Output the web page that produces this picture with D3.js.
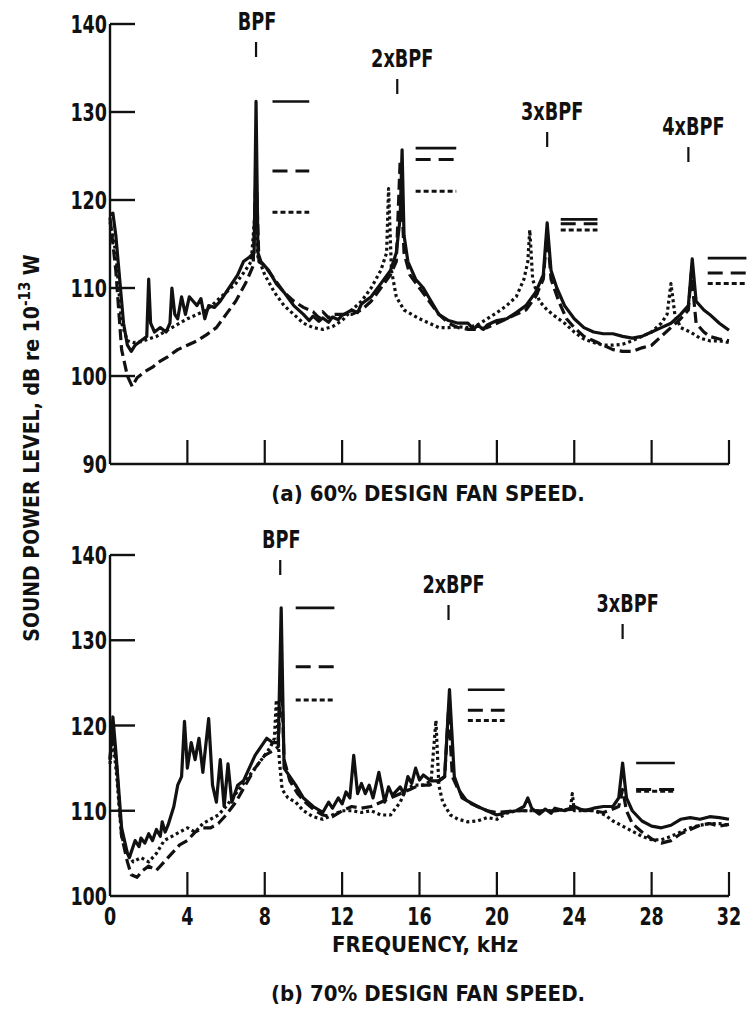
<!DOCTYPE html>
<html>
<head>
<meta charset="utf-8">
<script src="https://cdn.jsdelivr.net/npm/d3@7"></script>
<style>
  body { margin: 0; background: #fff; }
  text { font-family: 'Liberation Sans Narrow', 'DejaVu Sans Condensed', sans-serif; font-weight: bold; fill: #111; }
</style>
</head>
<body>
<svg id="chart" width="748" height="1020"></svg>
<script>
// ---- data (frequency kHz, sound power level dB) ----

// (a) 60% design fan speed
var a60Solid = [[0,118.3],[0.15,118.5],[0.3,116],[0.5,111],[0.7,106],[0.9,103.5],[1.1,102.8],[1.3,103.5],[1.6,104],[1.9,104.5],
  [2.0,111],[2.1,106],[2.3,105],[2.6,105.5],[2.9,105],[3.1,106],[3.2,110],[3.35,107],[3.5,106.5],[3.7,109],[3.9,107],[4.1,109],
  [4.3,108.5],[4.5,108],[4.7,108.8],[4.9,106.5],[5.1,108],[5.4,107.8],[5.7,108.5],[6.0,109.5],[6.3,110.5],[6.6,111.5],[6.9,113],
  [7.2,113.5],[7.45,114],[7.55,131.2],[7.65,114],[7.8,113],[8.2,112],[8.6,110.5],[9.0,109.5],[9.5,108],[10,107],[10.3,106.3],[10.5,106.8],
  [10.8,106.2],[11,106.6],[11.3,106.1],[11.5,106.7],[11.8,106.4],[12,106.9],[12.5,107.5],[12.8,107.2],[13,108.2],[13.5,109],[14,110.5],[14.5,112],[14.8,114],[15.0,118],[15.1,125.7],
  [15.2,116],[15.4,113],[15.8,111],[16.2,110],[16.6,108.5],[17,107],[17.5,106.3],[18,106],[18.5,106],[18.8,105.3],[19,105.8],[19.3,105.3],[19.5,105.8],
  [20,106.3],[20.5,106.5],[21,107.2],[21.5,108],[22,109.5],[22.4,111.5],[22.6,117.4],[22.8,112],[23.1,110],[23.5,108],[24,106.5],
  [24.5,105.5],[25,105],[25.5,104.8],[26,104.8],[26.5,104.5],[27,104.3],[27.5,104.5],[28,105],[28.5,105.5],[29,106],[29.5,107],
  [29.9,108],[30.1,113.3],[30.3,108.5],[30.7,107.5],[31,107],[31.5,106],[32,105.2]];

var a60Dashed = [[0,118],[0.3,112],[0.6,103],[0.9,100],[1.15,98.8],[1.4,99.8],[1.8,100.5],[2.2,101],[2.6,101.7],[3.0,102.2],
  [3.5,103],[4,103.5],[4.5,104],[5,104.7],[5.5,105.5],[6,107],[6.5,108.5],[7,110.5],[7.4,112.5],[7.55,123.3],[7.7,113],[8,112.5],
  [8.5,111],[9,109.5],[9.5,108.5],[10,107.8],[10.5,107.3],[10.8,106.6],[11,107.3],[11.3,106.6],[11.5,107],[12,107],[12.5,107],[13,107.5],[13.5,108.5],
  [14,110],[14.5,111.5],[14.8,113],[15.0,124.5],[15.2,114],[15.5,111.5],[16,110],[16.5,108.5],[17,107],[17.5,106],[18,105.5],
  [18.5,105.3],[19,105.3],[19.5,105.5],[20,106],[20.5,106.5],[21,107],[21.5,107.5],[22,109],[22.4,111],[22.6,116.5],[22.8,111],
  [23.2,108.5],[23.6,106.5],[24,105.5],[24.5,104.5],[25,104],[25.5,103.5],[26,103],[26.5,102.8],[27,102.8],[27.5,103.2],[28,103.5],
  [28.5,104.5],[29,105.5],[29.5,106.5],[29.9,107.5],[30.05,111.7],[30.3,106],[30.7,105],[31,104.5],[31.5,104.2],[32,104]];

var a60Dotted = [[0,117.5],[0.3,114],[0.6,106],[0.9,104],[1.2,103.8],[1.6,103.9],[2.0,104.2],[2.4,104.5],[2.8,105],[3.2,105.5],
  [3.6,106],[4.0,106.5],[4.5,107],[5.0,107.5],[5.5,108.5],[6.0,109.5],[6.5,110.5],[7.0,112],[7.3,113],[7.5,118.6],[7.65,113.5],
  [8,111.5],[8.5,109.5],[9,108],[9.5,107],[10,106],[10.5,105.5],[11,105.3],[11.5,105.6],[12,106.3],[12.5,107.5],[13,108.5],
  [13.5,110],[14,112],[14.3,114],[14.4,121.3],[14.55,112],[14.8,109],[15.2,107.5],[15.6,107],[16,106.5],[16.5,106],[17,105.5],
  [17.5,105.5],[18,105.6],[18.5,105.5],[19,105.8],[19.5,106.5],[20,107.2],[20.5,108],[21,109],[21.4,111],[21.6,113],[21.7,116.6],
  [21.85,111],[22.2,108.5],[22.6,107.5],[23,106.8],[23.5,106],[24,105],[24.5,104.2],[25,103.8],[25.5,103.5],[26,103.5],[26.5,103.6],
  [27,104],[27.5,104.5],[28,105],[28.5,106],[28.8,107],[29.0,110.5],[29.2,107],[29.5,105.5],[30,105],[30.5,104.3],[31,104],
  [31.5,104],[32,103.8]];

// (b) 70% design fan speed
var b70Solid = [[0,116],[0.15,121],[0.3,117],[0.6,108],[0.9,105],[1.0,104.5],[1.3,106.5],[1.5,105.8],[1.6,106.8],[1.8,106.2],[2.0,107.3],[2.2,106.5],[2.4,107.8],
  [2.6,107],[2.7,108.7],[2.85,107.5],[3.0,108.3],[3.3,110.5],[3.5,113],[3.7,114],[3.85,120.5],[4.0,115],[4.2,118],[4.4,116],[4.6,118.5],[4.8,114.5],
  [5.1,120.8],[5.3,113],[5.5,111],[5.7,116],[5.9,110.5],[6.1,115.5],[6.3,111],[6.6,113],[6.9,113.5],[7.2,115],[7.5,116.5],
  [7.8,117.5],[8.1,118.5],[8.4,118],[8.7,118],[8.85,133.8],[9.0,115],[9.3,114],[9.6,113],[10,111.5],[10.5,110.5],[11,109.8],
  [11.3,111],[11.5,110.3],[11.8,111.5],[12,110.8],[12.2,112.2],[12.4,111.5],[12.6,116.5],[12.8,112],[13.0,113.2],[13.2,112],[13.4,113],[13.6,111.5],[13.9,114.5],[14.2,111],[14.4,112.8],[14.6,111.8],
  [15.0,112.8],[15.2,112],[15.4,114],[15.6,113.2],[15.8,115],[16.0,113.6],[16.2,114.2],[16.6,113.5],[17.0,113.5],[17.3,114],[17.55,124.2],[17.8,114],[18.2,111.5],
  [18.6,111],[19,110.5],[19.5,110],[20,109.5],[20.5,109.8],[21,110],[21.4,110.5],[21.6,111.5],[21.8,110.3],[22.2,109.6],[22.5,110.2],[22.8,109.7],[23,110.3],
  [23.5,110],[24,110.5],[24.5,110],[25,110.3],[25.5,110.5],[26,110.5],[26.3,111.5],[26.5,115.6],[26.7,111.5],[27,110],[27.5,108.8],
  [28,108.2],[28.5,108],[29,108.3],[29.5,109],[30,109.2],[30.5,109],[31,109.3],[31.5,109.2],[32,109]];

var b70Dashed = [[0,116],[0.15,119.5],[0.35,115],[0.6,107],[0.9,104],[1.1,102.5],[1.4,102.2],[1.7,103],[2.0,103.5],[2.4,103],
  [2.8,104],[3.2,105],[3.6,106],[4,106.5],[4.4,107.5],[4.8,108],[5.2,108],[5.6,108.5],[6.0,109.5],[6.5,111],[7,113],[7.5,115],
  [8,116.5],[8.4,117],[8.7,117.5],[8.85,126.9],[9.0,116],[9.3,113.5],[9.7,112],[10.1,111],[10.6,110],[11,109.5],[11.5,109.3],
  [12,110],[12.5,110.5],[13,110.3],[13.5,110.5],[14,111],[14.5,111.5],[15,112],[15.5,112.5],[16,113],[16.5,113],[17,113.5],
  [17.3,114],[17.5,121.8],[17.7,114],[18,112.5],[18.5,111],[19,110.5],[19.5,110],[20,109.8],[21,110],[22,110],[23,110],[24,110.2],
  [25,110],[25.5,109.8],[26,110.2],[26.3,110.5],[26.5,112.5],[26.7,110],[27,108.5],[27.5,107.5],[28,106.7],[28.5,106.2],[29,106.5],
  [29.5,107.3],[30,107.8],[30.5,108.3],[31,108.5],[31.5,108.2],[32,108.4]];

var b70Dotted = [[0,115.5],[0.15,118.5],[0.35,114],[0.6,107],[0.9,105],[1.2,104],[1.6,104.5],[2.0,104],[2.4,105],[2.8,106.5],
  [3.2,107],[3.6,107.5],[4,108],[4.4,107.5],[4.8,108.5],[5.2,109],[5.6,109.5],[6,110.5],[6.5,112],[7,113.5],[7.5,115],[8,116.5],
  [8.3,117.5],[8.5,118.5],[8.6,123],[8.75,116],[8.9,112.5],[9.2,111.5],[9.6,111],[10,110],[10.5,109.3],[11,109],[11.5,109.5],
  [12,110],[12.5,110],[13,109.8],[13.5,110],[14,109.5],[14.5,109.5],[15,111],[15.3,112.5],[15.7,113],[16.2,113],[16.6,113.5],
  [16.85,120.6],[17.0,113],[17.2,111],[17.6,109.5],[18,109],[18.5,108.7],[19,108.8],[19.5,109.2],[20,109],[20.5,109.7],[21,110],
  [22,110],[23,110],[23.8,110.2],[23.9,112],[24.0,110],[25,110],[25.6,109.5],[26,108.8],[26.5,108.2],[27,107.6],[27.5,107],
  [28,106.6],[28.5,106.6],[29,107],[29.5,107.5],[30,108],[30.5,108.3],[31,108.5],[31.5,108.5],[32,108.3]];

// harmonic labels: name, frequency of the marker tick
var a60Harmonics = [["BPF",7.55],["2xBPF",14.85],["3xBPF",22.6],["4xBPF",29.9]];
var b70Harmonics = [["BPF",8.8],["2xBPF",17.5],["3xBPF",26.5]];

// peak level marks next to each harmonic: [fromKHz, toKHz, solid, dashed, dotted]
var a60Levels = [[8.4,10.3,131.2,123.3,118.6],[15.8,17.9,125.9,124.6,121],[23.3,25.2,117.8,117.3,116.6],[30.9,32.9,113.4,111.7,110.5]];
var b70Levels = [[9.6,11.6,133.8,126.9,123],[18.5,20.4,124.2,121.8,120.6],[27.2,29.2,115.6,112.5,112.3]];

var xTicks = [0,4,8,12,16,20,24,28,32];
var a60YTicks = [90,100,110,120,130,140];
var b70YTicks = [100,110,120,130,140];

// ---- drawing ----
var svg = d3.select('#chart');

var styles = {
  solid: null,
  dashed: '11,5',
  dotted: '3,3'
};

// the original lettering is tall and narrow: squeeze it sideways
function place(sel, fx, fy, k) {
  sel.attr('transform', function(d, i) {
    return 'translate(' + fx(d, i) + ',' + fy(d, i) + ') scale(' + k + ',1)';
  });
}

function drawPanel(opt) {
  var x = d3.scaleLinear().domain([0, 32]).range([110, 729]);
  var y = d3.scaleLinear().domain(opt.yDomain).range(opt.yRange);
  var g = svg.append('g');
  var y0 = y(opt.yDomain[0]);

  // axes
  g.append('line')
    .attr('x1', x(0)).attr('x2', x(0))
    .attr('y1', y0).attr('y2', y(140))
    .attr('stroke', '#111').attr('stroke-width', 2.4);
  g.append('line')
    .attr('x1', x(0)).attr('x2', x(32))
    .attr('y1', y0).attr('y2', y0)
    .attr('stroke', '#111').attr('stroke-width', 2.4);

  g.selectAll('.ytick').data(opt.yTicks.slice(1)).enter().append('line')
    .attr('x1', x(0)).attr('x2', x(0) + 25)
    .attr('y1', function(d) { return y(d); }).attr('y2', function(d) { return y(d); })
    .attr('stroke', '#111').attr('stroke-width', 2.4);

  g.selectAll('.xtick').data(xTicks.slice(1)).enter().append('line')
    .attr('x1', function(d) { return x(d); }).attr('x2', function(d) { return x(d); })
    .attr('y1', y0).attr('y2', y0 - 24)
    .attr('stroke', '#111').attr('stroke-width', 2.2);

  var yl = g.selectAll('.ylab').data(opt.yTicks).enter().append('text')
    .attr('text-anchor', 'end')
    .style('font-size', '25px')
    .text(function(d) { return d; });
  place(yl, function() { return x(0) - 3; }, function(d) { return y(d) + 9; }, 0.78);

  if (opt.xLabels) {
    var xl = g.selectAll('.xlab').data(xTicks).enter().append('text')
      .attr('text-anchor', 'middle')
      .style('font-size', '25px')
      .text(function(d) { return d; });
    place(xl, function(d) { return x(d); }, function() { return y0 + 29; }, 0.78);
  }

  // spectra
  var line = d3.line()
    .x(function(d) { return x(d[0]); })
    .y(function(d) { return y(d[1]); });

  opt.series.forEach(function(s) {
    g.append('path')
      .attr('d', line(s.data))
      .attr('fill', 'none')
      .attr('stroke', '#111')
      .attr('stroke-width', 3.2)
      .attr('stroke-linejoin', 'round')
      .attr('stroke-dasharray', styles[s.style]);
  });

  // peak level marks
  opt.levels.forEach(function(l) {
    ['solid', 'dashed', 'dotted'].forEach(function(st, i) {
      g.append('line')
        .attr('x1', x(l[0])).attr('x2', x(l[1]))
        .attr('y1', y(l[2 + i])).attr('y2', y(l[2 + i]))
        .attr('stroke', '#111')
        .attr('stroke-width', st == 'solid' ? 2.6 : 3)
        .attr('stroke-dasharray', st == 'dashed' ? '15,8' : (st == 'dotted' ? '5,3' : null));
    });
  });

  // harmonic labels
  opt.harmonics.forEach(function(h, i) {
    var ty = opt.labelY[i];
    var t = g.append('text')
      .datum(h)
      .attr('text-anchor', 'middle')
      .style('font-size', '24px')
      .text(h[0]);
    place(t, function() { return x(h[1]) + (i == 0 ? 1 : 5); }, function() { return ty; }, 0.82);
    g.append('line')
      .attr('x1', x(h[1])).attr('x2', x(h[1]))
      .attr('y1', ty + 12).attr('y2', ty + 27)
      .attr('stroke', '#111').attr('stroke-width', 2.2);
  });

  svg.append('text')
    .attr('x', 428)
    .attr('y', opt.titleY)
    .attr('text-anchor', 'middle')
    .style('font-size', '22px')
    .text(opt.title);
}

drawPanel({
  yDomain: [90, 140], yRange: [464, 24], yTicks: a60YTicks,
  series: [{ data: a60Solid, style: 'solid' }, { data: a60Dashed, style: 'dashed' }, { data: a60Dotted, style: 'dotted' }],
  levels: a60Levels, harmonics: a60Harmonics, labelY: [30, 67, 120, 135],
  xLabels: false, title: '(a) 60% DESIGN FAN SPEED.', titleY: 501
});

drawPanel({
  yDomain: [100, 140], yRange: [896, 555], yTicks: b70YTicks,
  series: [{ data: b70Solid, style: 'solid' }, { data: b70Dashed, style: 'dashed' }, { data: b70Dotted, style: 'dotted' }],
  levels: b70Levels, harmonics: b70Harmonics, labelY: [548, 593, 612],
  xLabels: true, title: '(b) 70% DESIGN FAN SPEED.', titleY: 1001
});

svg.append('text')
  .attr('x', 425).attr('y', 952)
  .attr('text-anchor', 'middle')
  .style('font-size', '22px')
  .text('FREQUENCY, kHz');

var ylab = svg.append('text')
  .attr('transform', 'translate(39,448) rotate(-90)')
  .attr('text-anchor', 'middle')
  .style('font-size', '21px');
ylab.append('tspan').text('SOUND POWER LEVEL, dB re 10');
ylab.append('tspan').attr('dy', -9).style('font-size', '15px').text('-13');
ylab.append('tspan').attr('dy', 9).text(' W');
</script>
</body>
</html>
